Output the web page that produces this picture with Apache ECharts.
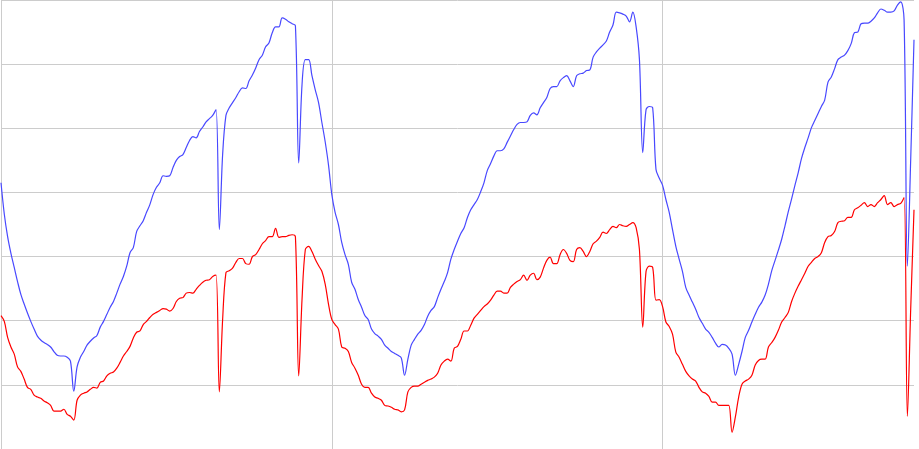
<!DOCTYPE html>
<html>
<head>
<meta charset="utf-8">
<script src="https://cdn.jsdelivr.net/npm/echarts@6/dist/echarts.min.js"></script>
<style>
html,body{margin:0;padding:0;background:#fff;}
#chart{width:919px;height:449px;}
</style>
</head>
<body>
<div id="chart"></div>
<script>
// x = sample index (0..276); y in chart units (grid every 10)
var blueValues = [
41.5,36.6,33.1,30.5,28.3,26.1,24.1,22.6,21.2,19.9,
18.7,17.6,17.0,16.6,16.3,15.9,15.2,14.6,14.5,14.5,
14.3,13.7,9.0,12.8,14.3,15.2,16.2,16.8,17.3,17.7,
19.0,19.9,21.0,22.1,23.0,24.3,25.7,26.9,28.5,30.6,
31.4,33.9,34.8,35.6,36.9,38.1,39.7,40.8,41.5,42.6,
42.5,42.6,43.9,45.0,45.6,45.9,47.0,48.1,48.7,48.5,
49.5,50.2,51.0,51.5,52.0,52.9,34.2,45.9,52.0,53.2,
54.0,54.8,55.7,56.3,56.2,57.4,58.3,59.4,60.7,61.4,
62.7,63.3,64.9,65.8,65.8,67.2,67.0,66.6,66.3,66.0,
44.6,56.8,60.7,60.7,58.2,56.0,54.0,50.9,47.9,44.3,
39.7,36.9,35.0,32.2,30.3,28.8,26.0,24.9,23.3,22.1,
20.8,20.2,18.7,18.0,17.6,17.1,16.2,15.7,15.2,14.9,
14.6,14.2,11.5,14.0,16.2,17.1,17.9,18.5,19.4,20.7,
21.6,22.2,23.6,24.9,26.1,27.5,29.6,31.1,32.4,33.6,
34.5,36.1,37.3,38.1,38.9,40.1,41.5,43.4,44.5,45.7,
46.5,46.5,46.8,47.8,48.8,49.8,50.6,50.9,50.9,51.0,
52.0,52.4,52.1,53.2,54.0,54.8,56.2,56.5,56.5,57.4,
57.9,58.2,57.4,56.5,58.2,58.5,58.6,59.0,59.1,61.1,
61.9,62.5,63.0,63.6,65.0,66.1,68.1,68.0,67.8,67.5,
66.6,68.1,65.8,60.7,46.2,52.9,53.4,53.2,43.6,42.2,
41.1,38.9,36.9,34.2,31.6,29.6,27.7,25.2,24.0,22.9,
21.8,20.5,19.6,18.7,18.2,17.4,16.5,15.9,16.3,16.2,
15.7,14.8,11.5,13.2,15.2,17.4,18.5,19.8,21.0,22.1,
22.9,24.0,25.7,27.8,29.4,31.0,32.7,34.8,37.0,39.0,
41.1,43.1,45.3,47.0,48.5,50.1,51.2,52.3,53.4,54.4,
57.2,58.0,59.3,60.7,61.1,61.4,62.1,63.2,64.9,65.0,
66.3,66.4,66.4,66.7,67.2,68.0,68.6,68.4,68.1,68.1,
68.3,69.2,69.7,66.9,28.5,45.1,63.8
];
var redValues = [
20.8,19.9,17.4,15.9,14.8,12.8,12.1,10.9,9.6,9.3,
8.4,8.1,7.9,7.5,7.2,6.8,5.9,5.9,5.9,6.2,
5.4,5.1,4.5,7.6,8.4,8.7,8.9,9.3,9.6,9.5,
10.4,10.6,11.4,11.8,12.0,12.6,13.5,14.5,15.2,16.0,
17.3,18.2,18.4,19.4,19.9,20.5,21.0,21.3,21.6,21.9,
21.8,21.5,21.9,23.0,23.5,23.6,24.3,24.4,24.3,24.9,
25.5,26.0,26.3,26.4,26.9,27.1,8.9,20.2,27.5,27.8,
28.2,29.1,29.7,29.7,28.9,28.8,30.0,30.3,31.1,32.0,
32.5,33.1,33.1,34.4,33.0,33.1,33.1,33.3,33.4,33.1,
11.4,23.3,31.1,31.6,30.8,29.6,28.6,27.7,25.7,22.6,
20.2,19.4,18.7,15.9,15.7,15.2,13.5,12.6,11.5,10.1,
9.6,9.6,8.7,8.1,7.9,7.6,6.8,6.7,6.5,6.2,
6.1,5.8,6.1,8.9,9.6,9.8,9.8,10.1,10.4,10.7,
10.9,11.2,11.8,13.1,13.7,14.0,13.7,15.7,16.0,17.1,
18.4,18.4,19.3,20.4,21.0,21.6,22.2,22.6,23.2,24.0,
24.6,24.6,24.3,24.3,25.2,25.7,26.1,26.4,27.1,26.3,
27.1,27.4,26.4,26.8,28.2,29.4,29.9,28.9,28.9,30.3,
31.1,30.5,29.4,29.2,31.1,31.4,30.8,30.0,30.8,32.0,
32.4,33.0,33.8,33.6,34.2,34.7,34.5,35.0,34.8,34.7,
35.0,35.3,34.5,31.1,19.0,27.7,28.5,28.3,23.2,23.3,
22.2,19.8,19.1,17.9,15.1,14.3,13.2,12.1,11.4,10.9,
10.6,9.6,8.9,8.7,8.2,7.3,7.3,6.8,6.8,6.8,
6.8,2.6,5.0,8.1,10.1,10.6,10.9,11.5,13.1,13.8,
14.0,14.0,15.9,16.6,17.4,18.5,19.8,20.5,21.3,23.0,
24.3,25.4,26.4,27.4,28.5,29.1,29.7,30.0,30.6,32.2,
33.1,33.3,33.9,35.3,35.5,35.6,36.1,36.1,37.3,37.6,
38.0,38.4,37.8,38.1,37.8,38.4,38.9,39.5,38.1,38.4,
37.8,38.1,38.3,39.2,5.1,21.8,37.3
];
var xMin = 0, xMax = 276, xInterval = 100;
var yMin = 0, yMax = 70, yInterval = 10;

function pairs(arr){ return arr.map(function(v,i){ return [i, v]; }); }

var chart = echarts.init(document.getElementById('chart'), null, {renderer:'canvas'});
chart.setOption({
  animation: false,
  backgroundColor: '#ffffff',
  grid: {left: 1, right: 5, top: 0, bottom: -1, containLabel: false},
  xAxis: {
    type: 'value', min: xMin, max: xMax, interval: xInterval,
    axisLine: {show: false}, axisTick: {show: false}, axisLabel: {show: false},
    splitLine: {show: true, showMaxLine: false, lineStyle: {color: '#cccccc', width: 1}}
  },
  yAxis: {
    type: 'value', min: yMin, max: yMax, interval: yInterval,
    axisLine: {show: false}, axisTick: {show: false}, axisLabel: {show: false},
    splitLine: {show: true, lineStyle: {color: '#cccccc', width: 1}}
  },
  series: [
    {type: 'line', data: pairs(blueValues), smooth: 0.35, showSymbol: false,
     lineStyle: {color: '#4848ff', width: 1.2}, z: 2},
    {type: 'line', data: pairs(redValues), smooth: 0.35, showSymbol: false,
     lineStyle: {color: '#ff0000', width: 1.2}, z: 3}
  ]
});
</script>
</body>
</html>
